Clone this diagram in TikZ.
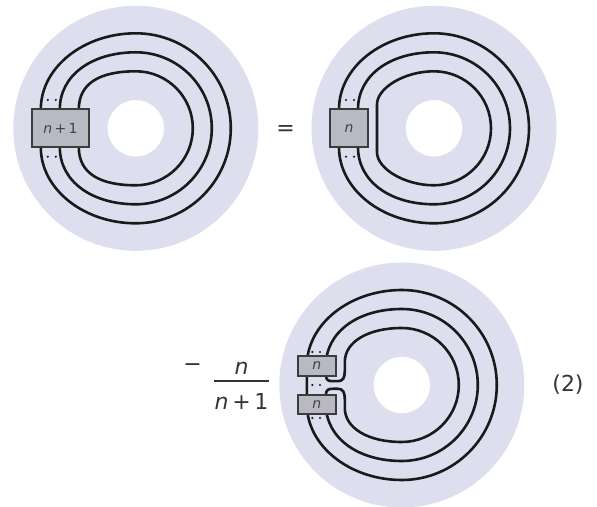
\documentclass[tikz,border=0pt]{standalone}
\usepackage{fontspec}
\setmainfont{DejaVu Sans}
\definecolor{discblue}{HTML}{DEDFEE}
\definecolor{boxgray}{HTML}{B9B9C4}
\definecolor{inkdark}{HTML}{1A1A1A}
\tikzset{
  disc/.style={fill=discblue,even odd rule},
  strand/.style={draw=inkdark,line width=2.6pt},
  jlbox/.style={draw=inkdark!85,fill=boxgray,line width=2pt,inner sep=0pt,text=black!75,font=\fontsize{14}{16}\selectfont},
  dotpair/.style={fill=inkdark},
  bigtext/.style={inner sep=0pt,text=black!80,font=\fontsize{22}{26}\selectfont}
}
\begin{document}
\begin{tikzpicture}[x=1pt,y=1pt]
\useasboundingbox (0,0) rectangle (597,506);

% left disc
\begin{scope}[shift={(135.8,377.7)}]
\path[disc] (0,0) circle (122.5) (0,0) circle (28.3);
\coordinate (at1) at (-95,19);
\coordinate (at2) at (-76,19);
\coordinate (at3) at (-57,19);
\coordinate (ab1) at (-95,-19);
\coordinate (ab2) at (-76,-19);
\coordinate (ab3) at (-57,-19);
\draw[strand] (at1) .. controls +(0,42) and +(-52,0) .. (0,95) arc[start angle=90,end angle=-90,radius=95] .. controls +(-52,0) and +(0,-42) .. (ab1);
\draw[strand] (at2) .. controls +(0,34) and +(-44,0) .. (0,76) arc[start angle=90,end angle=-90,radius=76] .. controls +(-44,0) and +(0,-34) .. (ab2);
\draw[strand] (at3) .. controls +(0,26) and +(-36,0) .. (0,57) arc[start angle=90,end angle=-90,radius=57] .. controls +(-36,0) and +(0,-26) .. (ab3);
\node[jlbox,minimum width=57.3,minimum height=38.4] (boxA) at (-75.4,0) {\textit{n}\,+\,1};
\fill[dotpair] (-88,28.3) circle (1.2) (-80,28.3) circle (1.2);
\fill[dotpair] (-88,-28.4) circle (1.2) (-80,-28.4) circle (1.2);
\end{scope}

\node[bigtext] (eq) at (285.5,375.5) {=};

% right disc
\begin{scope}[shift={(434,377.7)}]
\path[disc] (0,0) circle (122.5) (0,0) circle (28.3);
\coordinate (bt1) at (-95,19);
\coordinate (bt2) at (-76,19);
\coordinate (bb1) at (-95,-19);
\coordinate (bb2) at (-76,-19);
\coordinate (bl1) at (-57,24);
\coordinate (bl2) at (-57,-24);
\draw[strand] (bt1) .. controls +(0,42) and +(-52,0) .. (0,95) arc[start angle=90,end angle=-90,radius=95] .. controls +(-52,0) and +(0,-42) .. (bb1);
\draw[strand] (bt2) .. controls +(0,34) and +(-44,0) .. (0,76) arc[start angle=90,end angle=-90,radius=76] .. controls +(-44,0) and +(0,-34) .. (bb2);
\draw[strand] (bl2) -- (bl1) .. controls +(0,16) and +(-30,0) .. (0,57) arc[start angle=90,end angle=-90,radius=57] .. controls +(-30,0) and +(0,-16) .. (bl2) -- cycle;
\node[jlbox,minimum width=38.3,minimum height=38.4] (boxB) at (-85,0) {\textit{n}};
\fill[dotpair] (-88,28.3) circle (1.2) (-80,28.3) circle (1.2);
\fill[dotpair] (-88,-28.4) circle (1.2) (-80,-28.4) circle (1.2);
\end{scope}

\node[bigtext] (minus) at (192.5,138) {−};
\node[bigtext] (fracn) at (241.5,138) {\textit{n}};
\node[bigtext] (fracd) at (241.5,105) {\textit{n}\,+\,1};
\coordinate (barl) at (214,125);
\coordinate (barr) at (269,125);
\draw[line width=1.4pt,draw=black!80] (barl) -- (barr);

% lower disc
\begin{scope}[shift={(401.8,121)}]
\path[disc] (0,0) circle (122.5) (0,0) circle (28.3);
\coordinate (ct1) at (-95,19);
\coordinate (ct2) at (-76,19);
\coordinate (cb1) at (-95,-19);
\coordinate (cb2) at (-76,-19);
\coordinate (cu) at (-76,9);
\coordinate (cd) at (-76,-9);
\draw[strand] (ct1) .. controls +(0,42) and +(-52,0) .. (0,95) arc[start angle=90,end angle=-90,radius=95] .. controls +(-52,0) and +(0,-42) .. (cb1) -- cycle;
\draw[strand] (ct2) .. controls +(0,34) and +(-44,0) .. (0,76) arc[start angle=90,end angle=-90,radius=76] .. controls +(-44,0) and +(0,-34) .. (cb2);
\draw[strand] (cu) .. controls +(1,-4) and +(-5,0) .. (-69,3.8) -- (-64,3.8) .. controls +(5,0) and +(0,-7) .. (-57,14) -- (-57,23) .. controls +(0,20) and +(-34,0) .. (0,57) arc[start angle=90,end angle=-90,radius=57] .. controls +(-34,0) and +(0,-20) .. (-57,-23) -- (-57,-14) .. controls +(0,7) and +(5,0) .. (-64,-3.8) -- (-69,-3.8) .. controls +(-5,0) and +(1,4) .. (cd);
\node[jlbox,minimum width=38.3,minimum height=19.6] (boxCt) at (-85,19) {\textit{n}};
\node[jlbox,minimum width=38.3,minimum height=19.6] (boxCb) at (-85,-19.5) {\textit{n}};
\fill[dotpair] (-89.5,33) circle (1.2) (-81.8,33) circle (1.2);
\fill[dotpair] (-89.5,0) circle (1.2) (-81.8,0) circle (1.2);
\fill[dotpair] (-89.5,-33) circle (1.2) (-81.8,-33) circle (1.2);
\end{scope}

\node[bigtext] (eqno) at (568,121) {(2)};
\end{tikzpicture}
\end{document}
